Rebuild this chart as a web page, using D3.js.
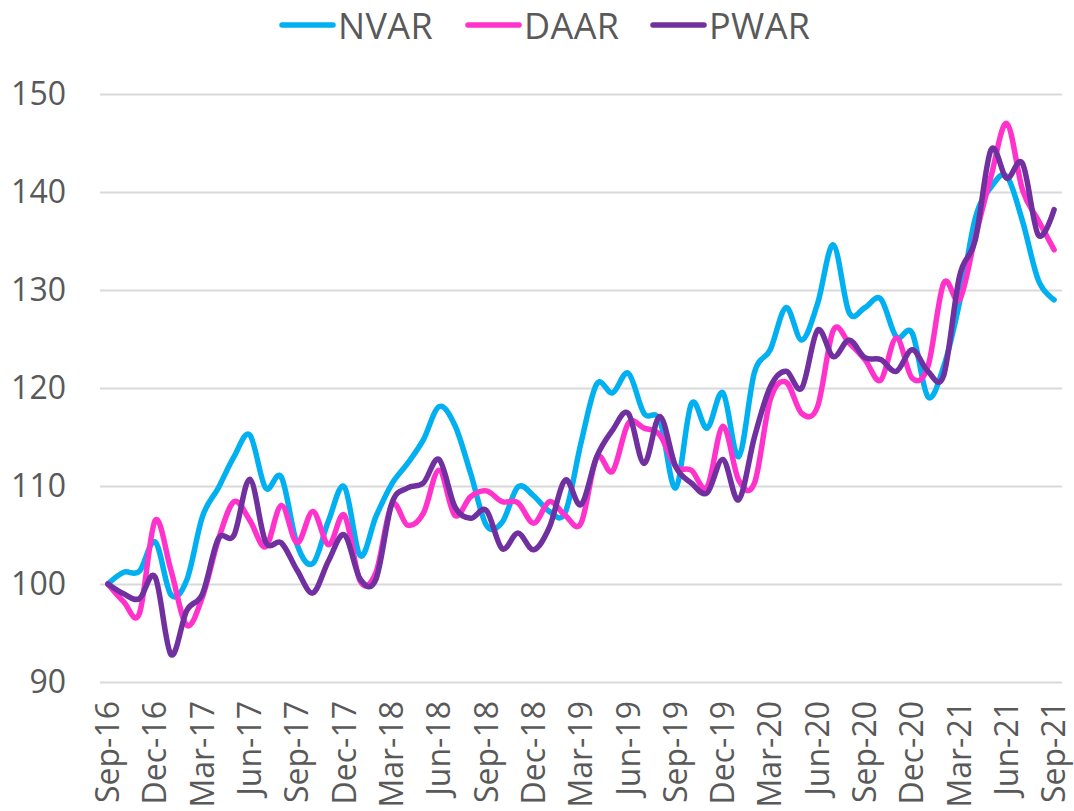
<!DOCTYPE html>
<html>
<head>
<meta charset="utf-8">
<script src="https://cdn.jsdelivr.net/npm/d3@7"></script>
<style>
  body { margin: 0; background: #fff; }
  svg text { font-family: "Open Sans", "Noto Sans", sans-serif; fill: #595959; }
</style>
</head>
<body>
<div id="chart"></div>
<script>
// monthly index values, Sep-16 .. Sep-21
const nvar = [100, 101.2, 101.3, 104.3, 98.9, 100.4, 106.9, 109.8, 113, 115.2,
  109.8, 110.9, 104, 102.1, 106.5, 109.9, 102.9, 106.9, 110.2, 112.3,
  114.7, 118.1, 116.2, 111.3, 106, 106.3, 109.9, 109, 107.4, 107.3,
  114.4, 120.4, 119.5, 121.5, 117.4, 116.7, 109.8, 118.4, 115.9, 119.5,
  113, 121.6, 123.9, 128.2, 124.9, 128.6, 134.6, 127.7, 128.2, 129.1,
  125.2, 125.6, 119.1, 122.2, 128.7, 137.3, 140.5, 141.6, 137, 131, 129];

const daar = [100, 98.2, 97, 106.5, 101.4, 95.8, 98.7, 104.5, 108.4, 106.5,
  103.8, 108, 104.2, 107.4, 104, 107, 100.3, 101.2, 108.1, 106,
  107.2, 111.6, 107, 108.9, 109.5, 108.4, 108.3, 106.2, 108.4, 107,
  106.2, 112.9, 111.5, 116.4, 115.9, 115.2, 112, 111.6, 109.9, 116.1,
  110.6, 110.3, 118.8, 120.6, 117.4, 118.1, 125.9, 124.6, 122.9, 120.8,
  125.1, 121, 122.2, 130.7, 129, 135.4, 141.6, 147, 140.2, 137.1, 134.1];

const pwar = [100, 99, 98.5, 100.7, 92.8, 97.3, 99, 104.6, 105, 110.7,
  104.3, 104.2, 101.4, 99.1, 102.4, 105, 100.5, 100.5, 108.2, 109.8,
  110.3, 112.7, 107.9, 106.7, 107.5, 103.6, 105.2, 103.5, 105.8, 110.6,
  108.1, 113, 115.7, 117.4, 112.3, 117.1, 112, 110.3, 109.3, 112.7,
  108.6, 115, 120.1, 121.7, 120, 125.9, 123.2, 124.9, 123.1, 122.9,
  121.7, 123.9, 121.7, 121.3, 131.4, 135.1, 144.3, 141.4, 142.9, 135.6, 138.2];

const xTickLabels = ["Sep-16", "Dec-16", "Mar-17", "Jun-17", "Sep-17", "Dec-17",
  "Mar-18", "Jun-18", "Sep-18", "Dec-18", "Mar-19", "Jun-19", "Sep-19", "Dec-19",
  "Mar-20", "Jun-20", "Sep-20", "Dec-20", "Mar-21", "Jun-21", "Sep-21"];

const yTicks = [90, 100, 110, 120, 130, 140, 150];

const seriesNames = ["NVAR", "DAAR", "PWAR"];
const seriesColors = ["#00b0f0", "#ff33cc", "#7030a0"];

const fmt = d3.timeFormat("%b-%y");
const months = d3.timeMonths(new Date(2016, 8, 1), new Date(2021, 9, 1)).map(fmt);

const series = [nvar, daar, pwar].map((vals, k) => ({
  name: seriesNames[k],
  color: seriesColors[k],
  values: vals.map((v, i) => ({month: months[i], value: v}))
}));

const full_width = 1074, full_height = 811;
const margin = {top: 94, right: 12, bottom: 129, left: 100};
const width = full_width - margin.left - margin.right;
const height = full_height - margin.top - margin.bottom;

const svg = d3.select("#chart").append("svg")
  .attr("width", full_width)
  .attr("height", full_height);

const g = svg.append("g")
  .attr("transform", "translate(" + margin.left + "," + margin.top + ")");

const x = d3.scaleBand().domain(months).range([0, width]).padding(0);
const y = d3.scaleLinear().domain([90, 150]).range([height, 0]);
const xc = d => x(d) + x.bandwidth() / 2;

// grid
g.append("g")
  .call(d3.axisLeft(y).tickValues(yTicks).tickSize(-width).tickFormat(""))
  .call(a => a.select(".domain").remove())
  .call(a => a.selectAll(".tick line").attr("stroke", "#d9d9d9").attr("stroke-width", 2));

// y labels
g.append("g")
  .call(d3.axisLeft(y).tickValues(yTicks).tickSize(0).tickPadding(34))
  .call(a => a.select(".domain").remove())
  .call(a => a.selectAll("text")
    .attr("font-size", 32)
    .attr("font-family", "'Open Sans', sans-serif")
    .attr("fill", "#595959"));

// x labels
const xAxis = g.append("g")
  .attr("transform", "translate(0," + height + ")")
  .call(d3.axisBottom(x).tickValues(xTickLabels).tickSize(0))
  .call(a => a.select(".domain").remove());

xAxis.selectAll("text")
  .attr("font-size", 32)
  .attr("font-family", "'Open Sans', sans-serif")
  .attr("fill", "#595959")
  .attr("text-anchor", "end")
  .attr("dy", "0.35em")
  .attr("transform", "translate(0,19) rotate(-90)")
  .attr("x", 0)
  .attr("y", 0);

// lines
const line = d3.line()
  .curve(d3.curveCardinal.tension(0))
  .x(d => xc(d.month))
  .y(d => y(d.value));

g.append("g").selectAll("path")
  .data(series)
  .enter()
  .append("path")
  .attr("fill", "none")
  .attr("stroke", d => d.color)
  .attr("stroke-width", 5.5)
  .attr("stroke-linejoin", "round")
  .attr("stroke-linecap", "round")
  .attr("d", d => line(d.values));

// legend
const legendX = [279, 465, 650];
const legend = svg.append("g").attr("transform", "translate(0,25)");

const item = legend.selectAll("g")
  .data(series)
  .enter()
  .append("g")
  .attr("transform", (d, i) => "translate(" + legendX[i] + ",0)");

item.append("line")
  .attr("x1", 3).attr("x2", 54)
  .attr("stroke", d => d.color)
  .attr("stroke-width", 5.5)
  .attr("stroke-linecap", "round");

item.append("text")
  .attr("x", 59)
  .attr("y", 14)
  .attr("font-size", 36)
  .attr("letter-spacing", 0.4)
  .text(d => d.name);
</script>
</body>
</html>
